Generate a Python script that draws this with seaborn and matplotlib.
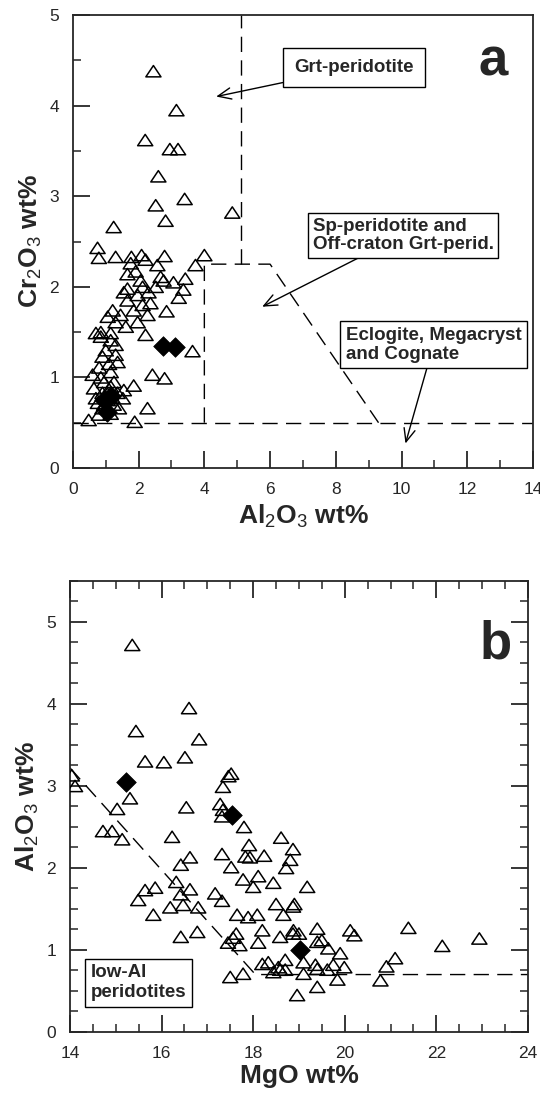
import numpy as np
import pandas as pd
import matplotlib
matplotlib.use("Agg")
import matplotlib.pyplot as plt
from matplotlib.path import Path
import seaborn as sns

# ---------------- data ----------------
# Panel a: Al2O3 (x) vs Cr2O3 (y)
a_tri_x = [2.45, 3.15, 2.2, 2.95, 3.2, 2.6, 3.4, 2.52, 4.85, 2.82, 1.24,
           0.75, 0.79, 1.30, 1.78, 2.09, 2.21, 2.79, 4.0, 3.73, 2.57, 1.76, 1.66, 1.91,
           2.67, 3.42, 3.06, 2.76, 2.06, 1.66, 2.12, 2.52, 3.36, 2.3, 1.55, 1.97, 3.22,
           1.66, 2.36, 2.12, 1.21, 1.85, 2.85, 1.45, 2.27, 1.06, 1.3, 1.97, 1.61, 0.85,
           1.15, 2.21, 0.7, 3.64, 1.3, 1.15, 0.85, 1.3, 0.9, 1.36, 0.8, 1.15, 0.6, 0.85,
           2.42, 2.79, 1.85, 1.55, 1.15, 0.64, 0.9, 1.36, 0.7, 1.06, 1.52, 0.76, 1.24,
           0.9, 1.4, 2.27, 0.48, 1.88, 0.79, 1.0, 1.1, 0.95, 1.25, 1.05, 1.2, 0.95, 1.15]
a_tri_y = [4.38, 3.95, 3.62, 3.52, 3.52, 3.22, 2.97, 2.9, 2.82, 2.73, 2.66,
           2.43, 2.32, 2.33, 2.33, 2.35, 2.30, 2.34, 2.35, 2.24, 2.24, 2.26, 2.14, 2.17,
           2.11, 2.09, 2.05, 2.07, 2.07, 1.98, 2.0, 2.0, 1.97, 1.94, 1.94, 1.91, 1.88,
           1.85, 1.82, 1.8, 1.74, 1.74, 1.73, 1.69, 1.69, 1.67, 1.61, 1.61, 1.56, 1.5,
           1.49, 1.47, 1.49, 1.29, 1.36, 1.41, 1.45, 1.25, 1.23, 1.17, 1.11, 1.06, 1.03, 1.0,
           1.03, 0.99, 0.91, 0.86, 0.9, 0.88, 0.83, 0.83, 0.77, 0.75, 0.77, 0.72, 0.7,
           0.66, 0.66, 0.66, 0.53, 0.51, 0.59, 1.3, 1.15, 0.95, 0.95, 0.82, 0.78, 0.7, 0.6]
a_dia_x = [2.75, 3.1, 1.05, 0.95, 1.15]
a_dia_y = [1.35, 1.33, 0.62, 0.75, 0.8]

# Panel a field boundaries
a_line1_x = [0, 14];   a_line1_y = [0.5, 0.5]
a_line2_x = [4.0, 4.0, 6.0, 9.3]; a_line2_y = [0.5, 2.25, 2.25, 0.5]
a_line3_x = [5.1, 5.1]; a_line3_y = [2.25, 5.0]

# Panel b: MgO (x) vs Al2O3 (y)
b_tri_x = [15.36, 16.6, 15.44, 16.82, 15.64, 16.05, 16.51, 14.04, 14.11, 15.31, 15.03,
           16.54, 17.52, 17.46, 17.34, 17.28, 17.34, 17.32, 17.8, 14.72, 14.92, 15.14,
           16.23, 18.61, 18.87, 18.81, 18.72, 17.91, 17.32, 17.83, 17.93, 18.24, 16.62,
           16.42, 17.52, 18.11, 17.78, 18.44, 18.0, 19.18, 15.86, 16.32, 16.62, 16.42,
           17.17, 17.32, 18.5, 18.9, 16.19, 16.47, 16.8, 15.64, 15.49, 15.82, 17.65, 17.89,
           18.09, 18.66, 18.2, 17.63, 17.56, 17.45, 17.7, 18.11, 16.78, 16.42, 18.59, 18.88,
           17.5, 17.78, 18.2, 18.33, 18.55, 18.7, 18.44, 18.96, 19.4, 20.12, 20.21, 21.39,
           22.13, 22.94, 21.1, 20.91, 20.78, 19.4, 19.84, 19.64, 19.9, 19.99, 19.75, 19.4,
           19.62, 19.1, 18.87, 19.0, 19.4, 19.5, 18.7, 19.36, 19.1, 18.59, 18.87]
b_tri_y = [4.72, 3.95, 3.67, 3.57, 3.3, 3.29, 3.35, 3.13, 3.0, 2.85, 2.72,
           2.74, 3.15, 3.12, 2.99, 2.78, 2.71, 2.63, 2.5, 2.45, 2.45, 2.35,
           2.38, 2.37, 2.23, 2.1, 2.0, 2.28, 2.17, 2.14, 2.13, 2.15, 2.13,
           2.04, 2.01, 1.9, 1.86, 1.82, 1.77, 1.77, 1.76, 1.83, 1.74, 1.68,
           1.69, 1.6, 1.56, 1.56, 1.52, 1.55, 1.52, 1.73, 1.61, 1.43, 1.43, 1.4,
           1.43, 1.43, 1.24, 1.2, 1.15, 1.09, 1.06, 1.09, 1.22, 1.16, 1.16, 1.24,
           0.67, 0.71, 0.83, 0.85, 0.79, 0.76, 0.73, 0.45, 1.26, 1.24, 1.18, 1.27,
           1.05, 1.14, 0.9, 0.8, 0.63, 0.55, 0.64, 1.02, 0.96, 0.79, 0.82, 0.77,
           0.76, 0.71, 1.2, 1.2, 1.1, 1.12, 0.88, 0.82, 0.85, 0.76, 1.53]
b_dia_x = [15.22, 17.54, 19.02]
b_dia_y = [3.05, 2.65, 1.0]

b_line_x = [14.0, 18.05, 24.0]
b_line_y = [3.22, 0.70, 0.70]

# ---------------- style ----------------
sns.set_style("ticks")
plt.rcParams["font.family"] = ["Liberation Sans", "DejaVu Sans"]
plt.rcParams["mathtext.fontset"] = "custom"
plt.rcParams["mathtext.rm"] = "Liberation Sans"
plt.rcParams["mathtext.bf"] = "Liberation Sans:bold"

tri = Path([(0, 0.75), (-1, -0.75), (1, -0.75), (0, 0.75)],
           [Path.MOVETO, Path.LINETO, Path.LINETO, Path.CLOSEPOLY])
dia = Path([(0, 1), (1, 0), (0, -1), (-1, 0), (0, 1)],
           [Path.MOVETO, Path.LINETO, Path.LINETO, Path.LINETO, Path.CLOSEPOLY])

fig = plt.figure(figsize=(5.4, 10.97), dpi=100)
ax1 = fig.add_axes([0.135, 0.5734, 0.852, 0.4129])
ax2 = fig.add_axes([0.1296, 0.0593, 0.848, 0.4111])

dash = (0, (11, 6))
TRI_S = 118
DIA_S = 200
ANN_FS = 13.5

def points(ax, tx, ty, dx, dy):
    sns.scatterplot(x=tx, y=ty, ax=ax, marker=tri, s=TRI_S, color="black",
                    facecolor="none", edgecolor="black", linewidth=1.1, zorder=3)
    sns.scatterplot(x=dx, y=dy, ax=ax, marker=dia, s=DIA_S, color="black",
                    edgecolor="black", linewidth=0.5, zorder=4)

def style_axes(ax, all_sides):
    for sp in ax.spines.values():
        sp.set_linewidth(1.3)
        sp.set_visible(True)
    ax.tick_params(which="major", direction="in", length=12, width=1.3,
                   labelsize=12.5, pad=10, top=all_sides, right=all_sides)
    ax.tick_params(which="minor", direction="in", length=6, width=1.1,
                   top=all_sides, right=all_sides)

def box(pad):
    return dict(boxstyle=f"square,pad={pad}", fc="white", ec="black", lw=1.0)

arr = dict(arrowstyle="->,head_length=0.7,head_width=0.3", color="black", lw=1.0,
           shrinkA=0, shrinkB=0)

# ---------------- panel a ----------------
points(ax1, a_tri_x, a_tri_y, a_dia_x, a_dia_y)
for lx, ly in [(a_line1_x, a_line1_y), (a_line2_x, a_line2_y), (a_line3_x, a_line3_y)]:
    ax1.plot(lx, ly, color="black", lw=1.0, linestyle=dash, zorder=2)
ax1.set_xlim(0, 14)
ax1.set_ylim(0, 5)
ax1.set_xticks(np.arange(0, 15, 2))
ax1.set_xticks(np.arange(0, 15, 1), minor=True)
ax1.set_yticks(np.arange(0, 6, 1))
ax1.set_yticks(np.arange(0, 5.01, 0.5), minor=True)
style_axes(ax1, False)
ax1.set_xlabel(r"Al$_2$O$_3$ wt%", fontsize=19, fontweight="bold", labelpad=4)
ax1.set_ylabel(r"Cr$_2$O$_3$ wt%", fontsize=19, fontweight="bold", labelpad=4)

ax1.annotate("Grt-peridotite", xy=(4.36, 4.1), xytext=(8.56, 4.42),
             ha="center", va="center", fontsize=ANN_FS, fontweight="bold",
             bbox=box(0.6), arrowprops=arr, zorder=5)
ax1.annotate("Sp-peridotite and\nOff-craton Grt-perid.", xy=(5.76, 1.78),
             xytext=(7.3, 2.57), ha="left", va="center", fontsize=ANN_FS,
             fontweight="bold", bbox=box(0.25), arrowprops=arr, zorder=5,
             linespacing=1.1)
ax1.annotate("Eclogite, Megacryst\nand Cognate", xy=(10.12, 0.27),
             xytext=(8.3, 1.36), ha="left", va="center", fontsize=ANN_FS,
             fontweight="bold", bbox=box(0.3), arrowprops=arr, zorder=5,
             linespacing=1.15)
ax1.text(12.8, 4.33, "a", fontsize=38, fontweight="bold", ha="center",
         va="baseline")

# ---------------- panel b ----------------
points(ax2, b_tri_x, b_tri_y, b_dia_x, b_dia_y)
ax2.plot(b_line_x, b_line_y, color="black", lw=1.0, linestyle=dash, zorder=2)
ax2.set_xlim(14, 24)
ax2.set_ylim(0, 5.5)
ax2.set_xticks(np.arange(14, 25, 2))
ax2.set_xticks(np.arange(14, 24.01, 0.5), minor=True)
ax2.set_yticks(np.arange(0, 6, 1))
ax2.set_yticks(np.arange(0, 5.51, 0.25), minor=True)
style_axes(ax2, True)
ax2.set_xlabel("MgO wt%", fontsize=19, fontweight="bold", labelpad=2)
ax2.set_ylabel(r"Al$_2$O$_3$ wt%", fontsize=19, fontweight="bold", labelpad=4)
ax2.text(14.45, 0.6, "low-Al\nperidotites", fontsize=ANN_FS, fontweight="bold",
         ha="left", va="center", bbox=box(0.3), linespacing=1.2, zorder=5)
ax2.text(23.3, 4.55, "b", fontsize=38, fontweight="bold", ha="center",
         va="baseline")

fig.savefig("out.png", dpi=100)
